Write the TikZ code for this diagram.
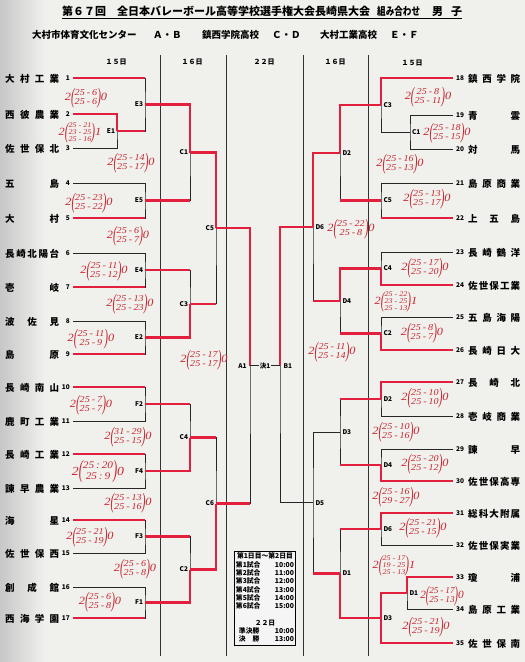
\documentclass[tikz,border=0pt]{standalone}
\usepackage{fontspec}
\setmainfont{Noto Sans CJK JP}
\newfontfamily\hand{Liberation Serif}
\definecolor{mk}{RGB}{226,32,62}
\definecolor{hr}{RGB}{200,36,46}
\definecolor{paper}{RGB}{240,240,237}
\newcommand\dd{\hspace{1.8pt}-\hspace{1.8pt}}
\newcommand\lp{\vcenter{\hbox{\scalebox{0.9}[2]{(}}}}
\newcommand\rp{\vcenter{\hbox{\scalebox{0.9}[2]{)}}}}
\newcommand\scb[3]{\scalebox{1.12}[1]{\hand\itshape\fontsize{11}{11}\selectfont 2$\lp\vcenter{\hbox{\fontsize{9}{9.2}\selectfont\hand\itshape\begin{tabular}{@{}c@{}}#1\\#2\end{tabular}}}\rp$#3}}
\newcommand\sct[4]{\scalebox{1.12}[1]{\hand\itshape\fontsize{11}{11}\selectfont 2$\lp\vcenter{\hbox{\fontsize{7.2}{6.5}\selectfont\hand\itshape\begin{tabular}{@{}c@{}}#1\\#2\\#3\end{tabular}}}\rp$#4}}
\newcommand\mt[3]{\draw[bk] (#2) -| (#1) |- (#3);}
\newcommand\rh[2]{\draw[rd] (#1) -- (#1 -| #2);}
\newcommand\rhv[2]{\draw[rd] (#1) -| (#2);}
\begin{document}
\begin{tikzpicture}[x=1pt,y=-1pt,
 bk/.style={line width=0.9pt, draw=black!85},
 rd/.style={line width=2.3pt, draw=mk},
 lbl/.style={font=\fontsize{6.5}{7}\selectfont\bfseries, inner sep=0.8pt},
 nm/.style={font=\fontsize{9.5}{10}\selectfont\bfseries, inner sep=0pt, anchor=west},
 num/.style={font=\fontsize{6.5}{7}\selectfont\bfseries, inner sep=0pt},
 sc/.style={inner sep=0pt, text=hr},
 hd/.style={font=\fontsize{7}{8}\selectfont\bfseries, inner sep=0pt},
 ttl/.style={font=\fontsize{11}{12}\selectfont\bfseries, inner sep=0pt, anchor=base west},
 sub/.style={font=\fontsize{9.5}{10}\selectfont\bfseries, inner sep=0pt, anchor=base west}]
\useasboundingbox (0,0) rectangle (525,662);
\fill[paper] (0,0) rectangle (525,662);
\shade[left color=black!22, right color=paper] (0,0) rectangle (45,662);

% title
\node[ttl] (t1) at (62,15) {第６７回};
\node[ttl] (t2) at (117,15) {全日本バレーボール高等学校選手権大会長崎県大会};
\node[ttl] (t3) at (377,15) {\scalebox{0.78}[1]{組み合わせ}};
\node[ttl] (t4) at (432,15) {男\hspace{8pt}子};
\coordinate (ul1) at (62,18.5);
\coordinate (ul2) at (462,18.5);
\draw[line width=0.8pt] (ul1) -- (ul2);

% subtitle
\node[sub] (u1) at (32,38) {大村市体育文化センター};
\node[sub] (u2) at (153,38) {Ａ・Ｂ};
\node[sub] (u3) at (202,38) {鎮西学院高校};
\node[sub] (u4) at (272,38) {Ｃ・Ｄ};
\node[sub] (u5) at (320,38) {大村工業高校};
\node[sub] (u6) at (390,38) {Ｅ・Ｆ};

% column separators
\foreach \x/\n in {160/a,226/b,303/c,368/d}{
  \coordinate (v\n t) at (\x,55);
  \coordinate (v\n b) at (\x,656);
  \draw[line width=0.8pt, black!80] (v\n t) -- (v\n b);
}
\node[hd] (h1) at (116,62) {１５日};
\node[hd] (h2) at (192,62) {１６日};
\node[hd] (h3) at (264,62) {２２日};
\node[hd] (h4) at (335,62) {１６日};
\node[hd] (h5) at (412,63) {１５日};

% left team lines start
\foreach \i/\y in {1/78,2/114,3/148,4/183,5/218,6/253,7/287,8/321,9/354,10/387,11/421,12/454,13/488,14/520,15/553,16/587,17/618}{
  \coordinate (s\i) at (73,\y);
  \node[num, anchor=east] (k\i) at (70,\y) {\i};
}
% right team lines end
\foreach \i/\y in {18/78,19/115,20/149,21/183,22/218,23/252,24/285,25/317,26/350,27/382,28/416,29/449,30/481,31/513,32/545,33/577,34/609,35/643}{
  \coordinate (s\i) at (453,\y);
  \node[num, anchor=west] (k\i) at (456,\y) {\i};
}

% left names
\node[nm] (n1) at (5,79) {\hbox to 54pt{大\hfil 村\hfil 工\hfil 業}};
\node[nm] (n2) at (5,115) {\hbox to 54pt{西\hfil 彼\hfil 農\hfil 業}};
\node[nm] (n3) at (5,149) {\hbox to 54pt{佐\hfil 世\hfil 保\hfil 北}};
\node[nm] (n4) at (5,184) {\hbox to 54pt{五\hfil 島}};
\node[nm] (n5) at (5,219) {\hbox to 54pt{大\hfil 村}};
\node[nm] (n6) at (5,254) {\hbox to 54pt{長\hfil 崎\hfil 北\hfil 陽\hfil 台}};
\node[nm] (n7) at (5,288) {\hbox to 54pt{壱\hfil 岐}};
\node[nm] (n8) at (5,322) {\hbox to 54pt{波\hfil 佐\hfil 見}};
\node[nm] (n9) at (5,355) {\hbox to 54pt{島\hfil 原}};
\node[nm] (n10) at (5,388) {\hbox to 54pt{長\hfil 崎\hfil 南\hfil 山}};
\node[nm] (n11) at (5,422) {\hbox to 54pt{鹿\hfil 町\hfil 工\hfil 業}};
\node[nm] (n12) at (5,455) {\hbox to 54pt{長\hfil 崎\hfil 工\hfil 業}};
\node[nm] (n13) at (5,489) {\hbox to 54pt{諫\hfil 早\hfil 農\hfil 業}};
\node[nm] (n14) at (5,521) {\hbox to 54pt{海\hfil 星}};
\node[nm] (n15) at (5,554) {\hbox to 54pt{佐\hfil 世\hfil 保\hfil 西}};
\node[nm] (n16) at (5,588) {\hbox to 54pt{創\hfil 成\hfil 館}};
\node[nm] (n17) at (5,619) {\hbox to 54pt{西\hfil 海\hfil 学\hfil 園}};
% right names
\node[nm] (n18) at (468,79) {\hbox to 52pt{鎮\hfil 西\hfil 学\hfil 院}};
\node[nm] (n19) at (468,116) {\hbox to 52pt{青\hfil 雲}};
\node[nm] (n20) at (468,150) {\hbox to 52pt{対\hfil 馬}};
\node[nm] (n21) at (468,184) {\hbox to 52pt{島\hfil 原\hfil 商\hfil 業}};
\node[nm] (n22) at (468,219) {\hbox to 52pt{上\hfil 五\hfil 島}};
\node[nm] (n23) at (468,253) {\hbox to 52pt{長\hfil 崎\hfil 鶴\hfil 洋}};
\node[nm] (n24) at (468,286) {\hbox to 52pt{佐\hfil 世\hfil 保\hfil 工\hfil 業}};
\node[nm] (n25) at (468,318) {\hbox to 52pt{五\hfil 島\hfil 海\hfil 陽}};
\node[nm] (n26) at (468,351) {\hbox to 52pt{長\hfil 崎\hfil 日\hfil 大}};
\node[nm] (n27) at (468,383) {\hbox to 52pt{長\hfil 崎\hfil 北}};
\node[nm] (n28) at (468,417) {\hbox to 52pt{壱\hfil 岐\hfil 商\hfil 業}};
\node[nm] (n29) at (468,450) {\hbox to 52pt{諫\hfil 早}};
\node[nm] (n30) at (468,482) {\hbox to 52pt{佐\hfil 世\hfil 保\hfil 高\hfil 専}};
\node[nm] (n31) at (468,514) {\hbox to 52pt{総\hfil 科\hfil 大\hfil 附\hfil 属}};
\node[nm] (n32) at (468,546) {\hbox to 52pt{佐\hfil 世\hfil 保\hfil 実\hfil 業}};
\node[nm] (n33) at (468,578) {\hbox to 52pt{瓊\hfil 浦}};
\node[nm] (n34) at (468,610) {\hbox to 52pt{島\hfil 原\hfil 工\hfil 業}};
\node[nm] (n35) at (468,644) {\hbox to 52pt{佐\hfil 世\hfil 保\hfil 南}};

% junctions
\coordinate (E1) at (117,131);   \coordinate (E3) at (145,104.5);
\coordinate (E5) at (145,200.5); \coordinate (C1) at (190,152.5);
\coordinate (E4) at (145,270);   \coordinate (E2) at (145,337.5);
\coordinate (C3) at (190,303.75);\coordinate (C5) at (216,228.1);
\coordinate (F2) at (145,404);   \coordinate (F4) at (145,471);
\coordinate (C4) at (190,437.5); \coordinate (F3) at (145,536.5);
\coordinate (F1) at (145,602.5); \coordinate (C2) at (190,569.5);
\coordinate (C6) at (216,503.5); \coordinate (A1) at (250,365.8);
\coordinate (rC1) at (410,132);  \coordinate (rC3) at (381,105);
\coordinate (rC5) at (381,200.5);\coordinate (rD2) at (340,152.75);
\coordinate (rC4) at (381,268.5);\coordinate (rC2) at (381,333.5);
\coordinate (rD4) at (340,301);  \coordinate (rD6) at (313,226.9);
\coordinate (bD2) at (381,399);  \coordinate (bD4) at (381,465);
\coordinate (bD3) at (340,432);  \coordinate (bD6) at (381,529);
\coordinate (bD1) at (407,593);  \coordinate (bD3c) at (381,618);
\coordinate (bD1c) at (340,573.5);\coordinate (D5) at (313,502.75);
\coordinate (B1) at (280,365.8);

% black bracket
\mt{E1}{s2}{s3}  \mt{E3}{s1}{E1}  \mt{E5}{s4}{s5}  \mt{C1}{E3}{E5}
\mt{E4}{s6}{s7}  \mt{E2}{s8}{s9}  \mt{C3}{E4}{E2}  \mt{C5}{C1}{C3}
\mt{F2}{s10}{s11} \mt{F4}{s12}{s13} \mt{C4}{F2}{F4}
\mt{F3}{s14}{s15} \mt{F1}{s16}{s17} \mt{C2}{F3}{F1}
\mt{C6}{C4}{C2}  \mt{A1}{C5}{C6}
\mt{rC1}{s19}{s20} \mt{rC3}{s18}{rC1} \mt{rC5}{s21}{s22} \mt{rD2}{rC3}{rC5}
\mt{rC4}{s23}{s24} \mt{rC2}{s25}{s26} \mt{rD4}{rC4}{rC2} \mt{rD6}{rD2}{rD4}
\mt{bD2}{s27}{s28} \mt{bD4}{s29}{s30} \mt{bD3}{bD2}{bD4}
\mt{bD6}{s31}{s32} \mt{bD1}{s33}{s34} \mt{bD3c}{bD1}{s35}
\mt{bD1c}{bD6}{bD3c} \mt{D5}{bD3}{bD1c} \mt{B1}{rD6}{D5}

% red winner marks
\rh{s1}{E3} \rhv{s2}{E1} \rh{E1}{E3} \rhv{E3}{C1}
\rh{s5}{E5} \rh{E5}{C1} \rhv{C1}{C5}
\rh{s7}{E4} \rh{E4}{C3} \rh{s9}{E2} \rhv{E2}{C3} \rh{C3}{C5}
\rhv{C5}{A1}
\rh{s10}{F2} \rh{F2}{C4} \rh{s12}{F4} \rhv{F4}{C4} \rh{C4}{C6}
\rh{s14}{F3} \rh{F3}{C2} \rh{s17}{F1} \rhv{F1}{C2} \rhv{C2}{C6}
\rh{C6}{A1}
\rhv{s18}{rC3} \rhv{rC3}{rD2} \rh{s22}{rC5} \rh{rC5}{rD2} \rhv{rD2}{rD6}
\rhv{s24}{rC4} \rhv{rC4}{rD4} \rhv{s26}{rC2} \rh{rC2}{rD4} \rh{rD4}{rD6}
\rhv{rD6}{B1}
\rhv{s27}{bD2} \rh{bD2}{bD3} \rhv{s30}{bD4} \rh{bD4}{bD3}
\rhv{s31}{bD6} \rh{bD6}{bD1c} \rhv{s33}{bD1} \rhv{bD1}{bD3c} \rhv{s35}{bD3c}
\rhv{bD3c}{bD1c} \rh{bD1c}{D5}

% match labels
\foreach \m in {E1,E3,E5,C1,E4,E2,C3,C5,F2,F4,C4,F3,F1,C2,C6}{
  \node[lbl, anchor=east] (l\m) at ([xshift=-1pt]\m) {\m};
}
\node[lbl, anchor=west] (lrC1) at ([xshift=1pt]rC1) {C1};
\node[lbl, anchor=west] (lrC3) at ([xshift=1.5pt]rC3) {C3};
\node[lbl, anchor=west] (lrC5) at ([xshift=1.5pt]rC5) {C5};
\node[lbl, anchor=west] (lrD2) at ([xshift=1.5pt]rD2) {D2};
\node[lbl, anchor=west] (lrC4) at ([xshift=1.5pt]rC4) {C4};
\node[lbl, anchor=west] (lrC2) at ([xshift=1.5pt]rC2) {C2};
\node[lbl, anchor=west] (lrD4) at ([xshift=1.5pt]rD4) {D4};
\node[lbl, anchor=west] (lrD6) at ([xshift=1.5pt]rD6) {D6};
\node[lbl, anchor=west] (lbD2) at ([xshift=1.5pt]bD2) {D2};
\node[lbl, anchor=west] (lbD4) at ([xshift=1.5pt]bD4) {D4};
\node[lbl, anchor=west] (lbD3) at ([xshift=1.5pt]bD3) {D3};
\node[lbl, anchor=west] (lbD6) at ([xshift=1.5pt]bD6) {D6};
\node[lbl, anchor=west] (lbD1) at ([xshift=1.5pt]bD1) {D1};
\node[lbl, anchor=west] (lbD3c) at ([xshift=1.5pt]bD3c) {D3};
\node[lbl, anchor=west] (lbD1c) at ([xshift=1.5pt]bD1c) {D1};
\node[lbl, anchor=west] (lD5) at ([xshift=1.5pt]D5) {D5};

% centre
\node[lbl, anchor=east] (lA1) at ([xshift=-2.5pt]A1) {A1};
\node[lbl, anchor=west] (lB1) at ([xshift=2.5pt]B1) {B1};
\node[lbl] (ctr) at (265,365.8) {決1};
\draw[bk] (A1) -- (ctr.west);
\draw[bk] (ctr.east) -- (B1);

% schedule box
\node[draw=black, line width=0.9pt, fill=white!96!black, inner sep=1.5pt, anchor=north west,
      font=\fontsize{6.8}{8.2}\selectfont\bfseries] (sched) at (234,551) {%
\begin{tabular*}{58pt}{@{}l@{\extracolsep{\fill}}r@{}}
\multicolumn{2}{@{}c@{}}{第1日目〜第2日目}\\
第1試合 & 10:00\\
第2試合 & 11:00\\
第3試合 & 12:00\\
第4試合 & 13:00\\
第5試合 & 14:00\\
第6試合 & 15:00\\
 & \\
\multicolumn{2}{@{}c@{}}{２２日}\\
\hspace{3pt}準決勝 & 10:00\\
\hspace{3pt}決\hspace{6.8pt}勝 & 13:00
\end{tabular*}};

% handwritten scores
\node[sc] (sc1) at (86,98) {\scb{25\dd 6}{25\dd 6}{0}};
\node[sc] (sc2) at (80,133) {\sct{25\dd 21}{23\dd 25}{25\dd 16}{1}};
\node[sc] (sc3) at (131,163) {\scb{25\dd 14}{25\dd 17}{0}};
\node[sc] (sc4) at (89,203) {\scb{25\dd 23}{25\dd 22}{0}};
\node[sc] (sc5) at (128,236) {\scb{25\dd 6}{25\dd 7}{0}};
\node[sc] (sc6) at (104,271) {\scb{25\dd 11}{25\dd 12}{0}};
\node[sc] (sc7) at (130,304) {\scb{25\dd 13}{25\dd 23}{0}};
\node[sc] (sc8) at (91,339) {\scb{25\dd 11}{25\dd 9}{0}};
\node[sc] (sc9) at (204,360) {\scb{25\dd 17}{25\dd 17}{0}};
\node[sc] (sc10) at (91,405) {\scb{25\dd 7}{25\dd 7}{0}};
\node[sc] (sc11) at (128,437) {\scb{31\dd 29}{25\dd 15}{0}};
\node[sc, scale=1.12] (sc12) at (98,472) {\scb{25\,:\,20}{25\,:\,9}{0}};
\node[sc] (sc13) at (128,503) {\scb{25\dd 13}{25\dd 16}{0}};
\node[sc] (sc14) at (90,537) {\scb{25\dd 21}{25\dd 19}{0}};
\node[sc] (sc15) at (135,569) {\scb{25\dd 6}{25\dd 8}{0}};
\node[sc] (sc16) at (100,602) {\scb{25\dd 6}{25\dd 8}{0}};
\node[sc] (sc17) at (428,97) {\scb{25\dd 8}{25\dd 11}{0}};
\node[sc] (sc18) at (447,133) {\scb{25\dd 18}{25\dd 15}{0}};
\node[sc] (sc19) at (400,164) {\scb{25\dd 16}{25\dd 13}{0}};
\node[sc] (sc20) at (427,199) {\scb{25\dd 13}{25\dd 17}{0}};
\node[sc] (sc21) at (351,229) {\scb{25\dd 22}{25\dd 8}{0}};
\node[sc] (sc22) at (425,268) {\scb{25\dd 17}{25\dd 20}{0}};
\node[sc] (sc23) at (396,302) {\sct{25\dd 22}{23\dd 25}{25\dd 13}{1}};
\node[sc] (sc24) at (422,333) {\scb{25\dd 8}{25\dd 7}{0}};
\node[sc] (sc25) at (332,352) {\scb{25\dd 11}{25\dd 14}{0}};
\node[sc] (sc26) at (425,398) {\scb{25\dd 10}{25\dd 10}{0}};
\node[sc] (sc27) at (396,432) {\scb{25\dd 10}{25\dd 16}{0}};
\node[sc] (sc28) at (425,464) {\scb{25\dd 20}{25\dd 12}{0}};
\node[sc] (sc29) at (396,497) {\scb{25\dd 16}{29\dd 27}{0}};
\node[sc] (sc30) at (423,528) {\scb{25\dd 21}{25\dd 15}{0}};
\node[sc] (sc31) at (394,566) {\sct{25\dd 17}{19\dd 25}{25\dd 13}{1}};
\node[sc, xscale=0.92] (sc32) at (442,596) {\scb{25\dd 17}{25\dd 13}{0}};
\node[sc] (sc33) at (426,627) {\scb{25\dd 21}{25\dd 19}{0}};
\end{tikzpicture}
\end{document}
